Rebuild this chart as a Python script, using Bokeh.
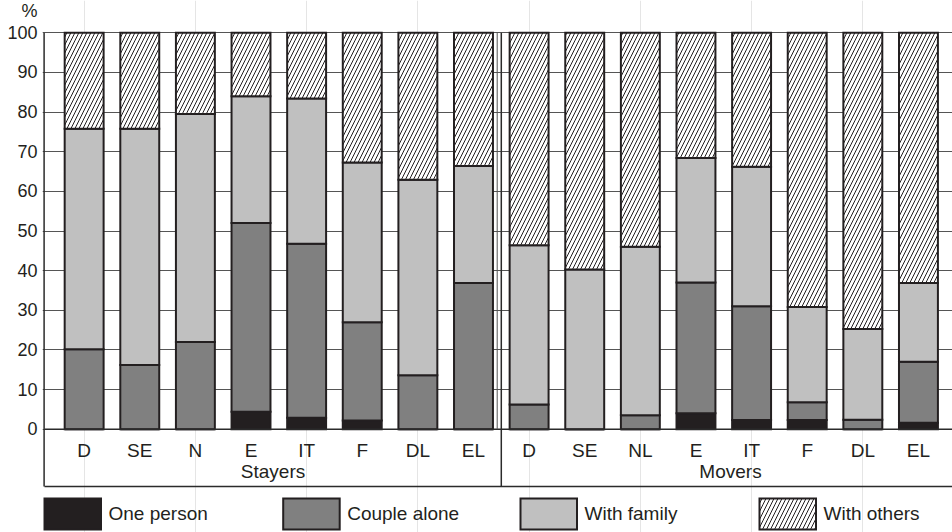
from bokeh.plotting import figure
from bokeh.models import (ColumnDataSource, Range1d, LinearAxis, FixedTicker, Grid)
from bokeh.core.properties import value
from bokeh.transform import stack
from bokeh.embed import file_html
from bokeh.resources import INLINE

# ---------------- data ----------------
categories = ["D", "SE", "N", "E", "IT", "F", "DL", "EL",
              "D", "SE", "NL", "E", "IT", "F", "DL", "EL"]
groups = ["Stayers", "Movers"]
series_names = ["One person", "Couple alone", "With family", "With others"]
one_person   = [0, 0, 0, 4.4, 2.9, 2.2, 0, 0,        0, 0, 0, 4.0, 2.3, 2.3, 0, 1.6]
couple_alone = [20.2, 16.2, 22.0, 47.6, 43.9, 24.8, 13.6, 36.9,
                6.2, 0, 3.5, 33.0, 28.7, 4.5, 2.4, 15.4]
with_family  = [55.6, 59.6, 57.5, 32.0, 36.6, 40.3, 49.3, 29.5,
                40.2, 40.3, 42.5, 31.4, 35.2, 24.0, 22.9, 19.9]
with_others  = [24.2, 24.2, 20.5, 16.0, 16.6, 32.7, 37.1, 33.6,
                53.6, 59.7, 54.0, 31.6, 33.8, 69.2, 74.7, 63.1]
y_ticks = [0, 10, 20, 30, 40, 50, 60, 70, 80, 90, 100]
unit_label = "%"

# ---------------- geometry helpers (reference pixels -> data) ----------------
X_C0, X_PITCH = 83.65, 55.62     # px of first bar centre, px per category
Y_ZERO, Y_PPU = 428.7, 3.964     # px of value 0, px per unit

def xd(px):
    return (px - X_C0) / X_PITCH

def yd(px):
    return (Y_ZERO - px) / Y_PPU

DARK = "#231f20"
FONT = "Liberation Sans"

p = figure(width=952, height=532,
           x_range=Range1d(xd(42), xd(952)), y_range=Range1d(yd(532), yd(0)),
           x_axis_location=None, y_axis_location=None,
           toolbar_location=None, output_backend="svg",
           min_border_left=42, min_border_right=0,
           min_border_top=0, min_border_bottom=0)
p.outline_line_color = None
p.background_fill_color = "white"
p.border_fill_color = "white"

# y axis: numeric ticks plus the unit sign placed above "100"
unit_pos = 105.6
yaxis = LinearAxis(ticker=FixedTicker(ticks=y_ticks + [unit_pos]),
                   bounds=(yd(500), yd(0)),
                   major_label_overrides={unit_pos: unit_label},
                   major_tick_out=0, major_tick_in=0,
                   minor_tick_line_color=None, major_label_standoff=5,
                   axis_line_color=None,
                   major_label_text_font=FONT, major_label_text_font_size="18px",
                   major_label_text_color=DARK)
p.add_layout(yaxis, "left")
p.add_layout(Grid(dimension=1, ticker=FixedTicker(ticks=y_ticks),
                  grid_line_color="#555555", grid_line_width=1))

# ---------------- bars ----------------
xs = list(range(len(categories)))
src = ColumnDataSource(dict(x=xs, one=one_person, couple=couple_alone,
                            family=with_family, others=with_others))
fills = [DARK, "#808080", "#c0c0c0", "white"]
p.vbar_stack(["one", "couple", "family"], x="x", width=0.7, source=src,
             fill_color=fills[:3], line_color=DARK, line_width=2, line_join="miter")
p.vbar(x="x", width=0.7, bottom=stack("one", "couple", "family"),
       top=stack("one", "couple", "family", "others"), source=src,
       fill_color="white", hatch_pattern="/", hatch_scale=8, hatch_weight=1,
       hatch_color=DARK, line_color=DARK, line_width=2, line_join="miter")

# ---------------- frame lines / category box ----------------
p.segment(x0=[xd(44), xd(44)], y0=[0, yd(486)], x1=[xd(952), xd(952)], y1=[0, yd(486)],
          line_color="#2b2b2b", line_width=1.5)
# left axis line (down to the bottom of the category box)
p.segment(x0=[xd(43.6)], y0=[100], x1=[xd(43.6)], y1=[yd(486)],
          line_color="#2b2b2b", line_width=1.5)
p.segment(x0=[7.5], y0=[100], x1=[7.5], y1=[yd(486)], line_color="#2b2b2b", line_width=1.5)
p.segment(x0=[xd(496.7)], y0=[100], x1=[xd(496.7)], y1=[0], line_color="#555555", line_width=1)

# category labels
p.text(x=xs, y=[yd(450)] * len(xs), text=categories, text_align="center",
       text_baseline="alphabetic", text_font=value(FONT), text_font_size="19px",
       text_color=DARK)
p.text(x=[xd(272.5), xd(730)], y=[yd(470.5)] * 2, text=groups, text_align="center",
       text_baseline="alphabetic", text_font=value(FONT), text_font_size="19px",
       text_color=DARK)

# ---------------- legend ----------------
leg_left_px = [43, 281.7, 519, 758]
for i, name in enumerate(series_names):
    l = leg_left_px[i]
    kw = dict(fill_color=fills[i], line_color=DARK, line_width=2, line_join="miter")
    if i == 3:
        kw.update(hatch_pattern="/", hatch_scale=8, hatch_weight=1, hatch_color=DARK)
    p.quad(left=[xd(l + 1)], right=[xd(l + 57.5)], top=[yd(498)], bottom=[yd(529)], **kw)
    p.text(x=[xd(l + 65)], y=[yd(512.5)], text=[name], text_align="left",
           text_baseline="alphabetic", text_font=value(FONT), text_font_size="19px",
           text_color=DARK)

open("out.html", "w").write(file_html(p, INLINE))
